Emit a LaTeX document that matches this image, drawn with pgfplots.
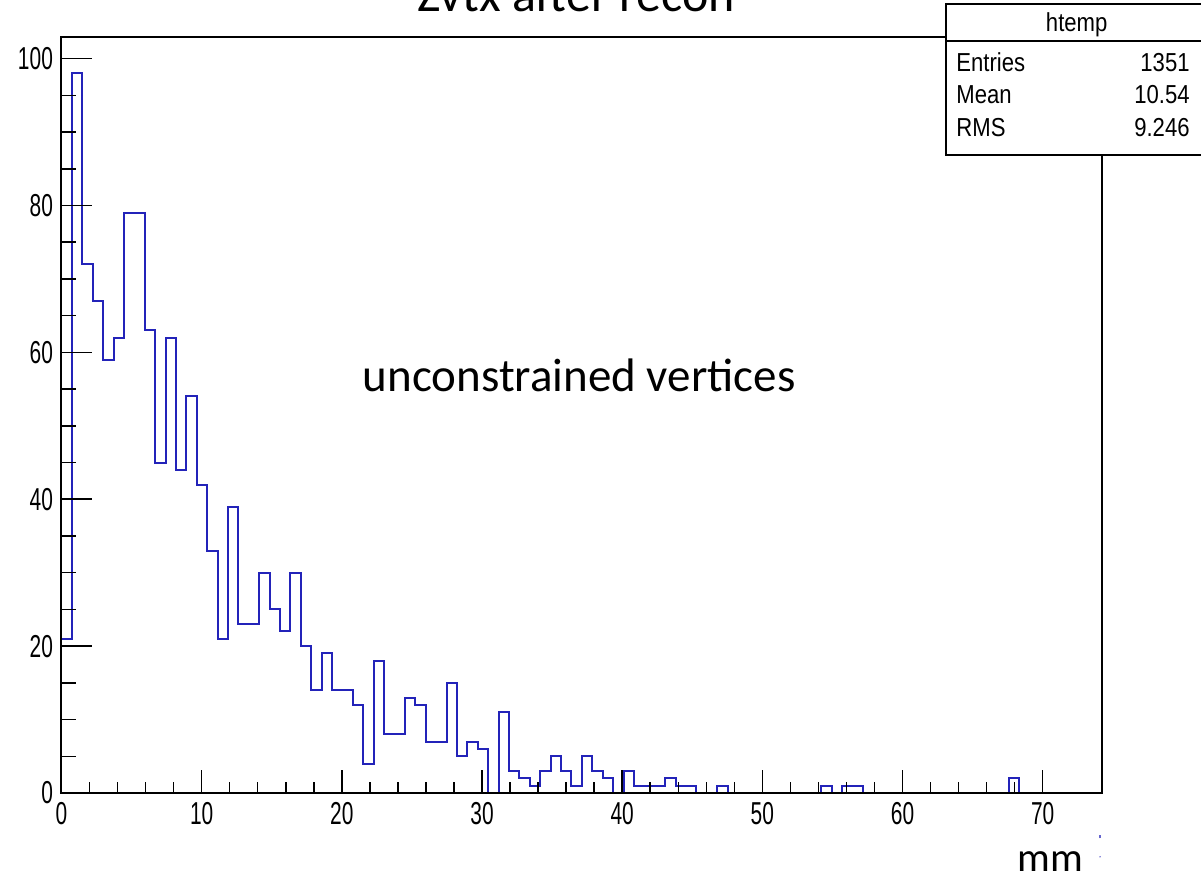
\documentclass[border=0pt]{standalone}
\usepackage{pgfplots}
\pgfplotsset{compat=1.18}
\usepackage{pgfplotstable}
\usepackage{fontspec}
\setmainfont{Carlito}
\newfontfamily\ticksfont[FakeStretch=0.66]{Liberation Sans}
\newfontfamily\statfont[FakeStretch=0.85]{Liberation Sans}
\definecolor{histblue}{RGB}{35,35,185}

% zvtx histogram: 100 bins of width 0.7425 mm starting at 0
% (first row closes the outline down to the baseline)
\pgfplotstableread{
bin count
0 0
0 21
1 98
2 72
3 67
4 59
5 62
6 79
7 79
8 63
9 45
10 62
11 44
12 54
13 42
14 33
15 21
16 39
17 23
18 23
19 30
20 25
21 22
22 30
23 20
24 14
25 19
26 14
27 14
28 12
29 4
30 18
31 8
32 8
33 13
34 12
35 7
36 7
37 15
38 5
39 7
40 6
41 0
42 11
43 3
44 2
45 1
46 3
47 5
48 3
49 1
50 5
51 3
52 2
53 0
54 3
55 1
56 1
57 1
58 2
59 1
60 1
61 0
62 0
63 1
64 0
65 0
66 0
67 0
68 0
69 0
70 0
71 0
72 0
73 1
74 0
75 1
76 1
77 0
78 0
79 0
80 0
81 0
82 0
83 0
84 0
85 0
86 0
87 0
88 0
89 0
90 0
91 2
92 0
93 0
94 0
95 0
96 0
97 0
98 0
99 0
100 0
}\zvtx

\pgfplotsset{
  rootframe/.style={
    at={(30.75pt,42.5pt)}, anchor=south west,
    scale only axis, width=520.4pt, height=377.85pt,
    xmin=0, xmax=74.25, ymin=0, ymax=102.9,
    axis on top,
    axis line style={line width=1pt, black},
    tick style={line width=0.75pt, black},
    /pgf/number format/assume math mode=true,
  }
}

\begin{document}
\begin{tikzpicture}
% histogram with x ticks
\begin{axis}[
  rootframe,
  xtick={0,10,...,70}, minor x tick num=4,
  ytick=\empty,
  xtick pos=lower,
  major tick length=11.5pt, minor tick length=5.65pt,
  x tick label style={font=\ticksfont\fontsize{15.85}{16}\selectfont,
    inner sep=0pt, anchor=north, yshift=-4.35pt},
]
\addplot[const plot mark left, histblue, line width=1pt, mark=none]
  table[x expr=\thisrow{bin}*0.7425, y=count] {\zvtx};
\end{axis}
% y ticks (longer than the x ticks)
\begin{axis}[
  rootframe,
  xtick=\empty,
  ytick={0,20,...,100}, minor y tick num=3,
  ytick pos=left,
  major tick length=15.35pt, minor tick length=7.5pt,
  y tick label style={font=\ticksfont\fontsize{15.85}{16}\selectfont,
    inner sep=0pt, anchor=east, xshift=-4.1pt},
]
\end{axis}

% statistics box
\draw[line width=1pt, fill=white] (473pt,361.5pt) rectangle (612pt,437pt);
\draw[line width=1pt] (473pt,418.65pt) -- (612pt,418.65pt);
\begin{scope}[every node/.style={inner sep=0pt, font=\statfont\fontsize{13}{15}\selectfont}]
\node[anchor=base] at (538.35pt,423.15pt) {htemp};
\node[anchor=base west] at (478pt,403.15pt) {Entries};
\node[anchor=base east] at (595pt,403.15pt) {1351};
\node[anchor=base west] at (478pt,387pt) {Mean};
\node[anchor=base east] at (595pt,387pt) {10.54};
\node[anchor=base west] at (478pt,370.65pt) {RMS};
\node[anchor=base east] at (595pt,370.65pt) {9.246};
\end{scope}

% captions
\node[anchor=base, inner sep=0pt, font=\fontsize{25}{30}\selectfont] at (288pt,433pt) {Zvtx after recon};
\node[anchor=base, inner sep=0pt, font=\fontsize{23.5}{28}\selectfont] at (289.6pt,243.15pt) {unconstrained vertices};
\node[anchor=base, inner sep=0pt, font=\fontsize{20.5}{25}\selectfont] at (525pt,3pt) {mm};
\draw[histblue!70, line width=0.6pt] (550pt,19.8pt) -- (550pt,21.6pt);
\fill[histblue!70] (550pt,10.6pt) circle (0.4pt);

\pgfresetboundingbox
\useasboundingbox (0,0) rectangle (600.5pt,439pt);
\end{tikzpicture}
\end{document}
